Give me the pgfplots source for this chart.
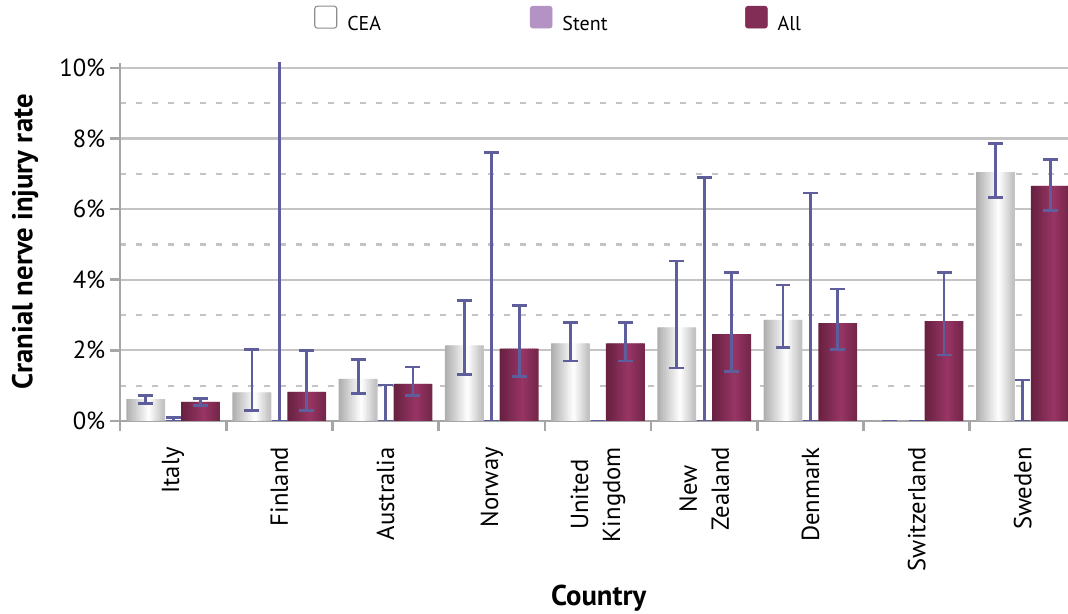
\documentclass[border=0pt]{standalone}
\usepackage{pgfplots}
\usepackage{pgfplotstable}
\pgfplotsset{compat=1.18}
\usepackage{fontspec}
\setmainfont{PT Sans}

\definecolor{errc}{HTML}{5E5E9C}
\definecolor{axisgray}{HTML}{A6A6A6}
\definecolor{gridgray}{HTML}{C4C4C4}
\definecolor{ceaL}{HTML}{ABABAB}
\definecolor{ceaR}{HTML}{BEBEBE}
\definecolor{stentc}{HTML}{B392C4}
\definecolor{allL}{HTML}{65203F}
\definecolor{allM}{HTML}{983565}
\definecolor{allR}{HTML}{732749}

% strip colours for the horizontal gradient of the bars (20 strips, lightest at 60%)
\pgfplotsforeachungrouped \k in {0,...,19}{%
  \pgfmathtruncatemacro\pl{max(0,100*(1-((\k+0.5)/20)/0.6))}%
  \pgfmathtruncatemacro\pr{max(0,100*(((\k+0.5)/20)-0.6)/0.4)}%
  \ifnum\pl>0
    \colorlet{cea\k}{ceaL!\pl!white}\colorlet{all\k}{allL!\pl!allM}%
  \else
    \colorlet{cea\k}{ceaR!\pr!white}\colorlet{all\k}{allR!\pr!allM}%
  \fi
}

% x  CEA  Stent  All
\pgfplotstableread{
x cea stent all
0 0.62 0 0.54
1 0.81 0 0.82
2 1.19 0 1.05
3 2.14 0 2.05
4 2.20 0 2.20
5 2.65 0 2.46
6 2.86 0 2.77
7 0.00 0 2.83
8 7.05 0 6.66
}\rates

\pgfplotsset{
  errstyle/.style={
    draw=none, mark=none,
    error bars/.cd, y dir=both, y explicit,
    error bar style={draw=errc, line width=2.1pt},
    error mark options={draw=errc, line width=2.1pt, mark size=5.6pt, rotate=90}
  }
}

\begin{document}
\begin{tikzpicture}
\useasboundingbox (-90pt,-144.75pt) rectangle (711pt,315.7pt);
\begin{axis}[
  at={(0pt,0pt)}, anchor=south west,
  scale only axis, width=711pt, height=268.7pt,
  xmin=-0.5, xmax=8.425, ymin=0, ymax=10.15,
  axis x line*=bottom, axis y line*=left,
  axis line style={axisgray, line width=2pt},
  xtick={0,...,8},
  xticklabels={Italy,Finland,Australia,Norway,United\\Kingdom,New\\Zealand,Denmark,Switzerland,Sweden},
  minor xtick={-0.5,0.5,...,8.5},
  ytick={0,2,...,10},
  yticklabels={0\%,2\%,4\%,6\%,8\%,10\%},
  minor ytick={1,3,5,7,9},
  ymajorgrids, yminorgrids,
  major grid style={gridgray, line width=1.6pt},
  minor grid style={gridgray, line width=1.6pt, dash pattern=on 4.5pt off 7.5pt},
  tick align=outside,
  major tick length=7.5pt, minor tick length=7.5pt,
  tick style={axisgray, line width=2pt},
  every major x tick/.append style={draw=none},
  every minor y tick/.append style={draw=none},
  ticklabel style={font=\fontsize{18.5}{24}\selectfont},
  xticklabel style={rotate=90, anchor=east, align=center, inner xsep=12pt},
  every axis y label/.style={at={(axis description cs:-0.1002,0.5)}, anchor=center, rotate=90, font=\fontsize{21.5}{24}\selectfont\bfseries},
  every axis x label/.style={at={(axis description cs:0.505,-0.494)}, anchor=center, font=\fontsize{21.5}{24}\selectfont\bfseries},
  ylabel={Cranial nerve injury rate},
  xlabel={Country},
  legend columns=3,
  legend style={at={(axis description cs:0.2046,1.122)}, anchor=west, draw=none, fill=none, inner sep=0pt,
    font=\fontsize{15}{17}\selectfont, nodes={inner sep=0pt, anchor=west},
    /tikz/every odd column/.style={column sep=7.5pt}},
]

% CEA bars, drawn as 20 overlapping narrow strips for the shading
\pgfplotsinvokeforeach{0,...,19}{
  \addplot[forget plot, ybar, bar width=0.026, bar shift={-0.428+#1*0.01789}, draw=none, fill=cea#1]
    table[x=x, y=cea]{\rates};
}
% Stent bars (all zero)
\addplot[forget plot, ybar, bar width=0.366, bar shift=0, draw=none, fill=stentc]
  table[x=x, y=stent]{\rates};
% All bars
\pgfplotsinvokeforeach{0,...,19}{
  \addplot[forget plot, ybar, bar width=0.026, bar shift={0.088+#1*0.01789}, draw=none, fill=all#1]
    table[x=x, y=all]{\rates};
}

% error bars: CEA
\addplot[forget plot, errstyle] coordinates {
  (-0.258,0.62) += (0,0.10) -= (0,0.12)
  (0.742,0.81) += (0,1.21) -= (0,0.51)
  (1.742,1.19) += (0,0.54) -= (0,0.41)
  (2.742,2.14) += (0,1.27) -= (0,0.82)
  (3.742,2.20) += (0,0.60) -= (0,0.50)
  (4.742,2.65) += (0,1.88) -= (0,1.15)
  (5.742,2.86) += (0,0.99) -= (0,0.78)
  (6.742,0.00) += (0,0.00) -= (0,0.00)
  (7.742,7.05) += (0,0.82) -= (0,0.73)
};
% error bars: Stent
\addplot[forget plot, errstyle] coordinates {
  (0,0) += (0,0.10) -= (0,0)
  (1,0) += (0,12.0) -= (0,0)
  (2,0) += (0,1.02) -= (0,0)
  (3,0) += (0,7.60) -= (0,0)
  (4,0) += (0,0.00) -= (0,0)
  (5,0) += (0,6.90) -= (0,0)
  (6,0) += (0,6.46) -= (0,0)
  (7,0) += (0,0.00) -= (0,0)
  (8,0) += (0,1.16) -= (0,0)
};
% error bars: All
\addplot[forget plot, errstyle] coordinates {
  (0.258,0.54) += (0,0.09) -= (0,0.11)
  (1.258,0.82) += (0,1.18) -= (0,0.52)
  (2.258,1.05) += (0,0.48) -= (0,0.34)
  (3.258,2.05) += (0,1.22) -= (0,0.79)
  (4.258,2.20) += (0,0.60) -= (0,0.50)
  (5.258,2.46) += (0,1.75) -= (0,1.07)
  (6.258,2.77) += (0,0.97) -= (0,0.75)
  (7.258,2.83) += (0,1.37) -= (0,0.96)
  (8.258,6.66) += (0,0.75) -= (0,0.70)
};

\addlegendimage{legend image code/.code={\draw[rounded corners=2pt, fill=white, draw=black!45, line width=0.8pt] (0pt,-3pt) rectangle (16.5pt,13.5pt);}}
\addlegendentry{\makebox[137pt][l]{CEA}}
\addlegendimage{legend image code/.code={\draw[rounded corners=2pt, fill=stentc, draw=stentc] (0pt,-3pt) rectangle (16.5pt,13.5pt);}}
\addlegendentry{\makebox[137pt][l]{Stent}}
\addlegendimage{legend image code/.code={\draw[rounded corners=2pt, fill=allM!85!black, draw=allM!85!black] (0pt,-3pt) rectangle (16.5pt,13.5pt);}}
\addlegendentry{All}
\end{axis}
\end{tikzpicture}
\end{document}
